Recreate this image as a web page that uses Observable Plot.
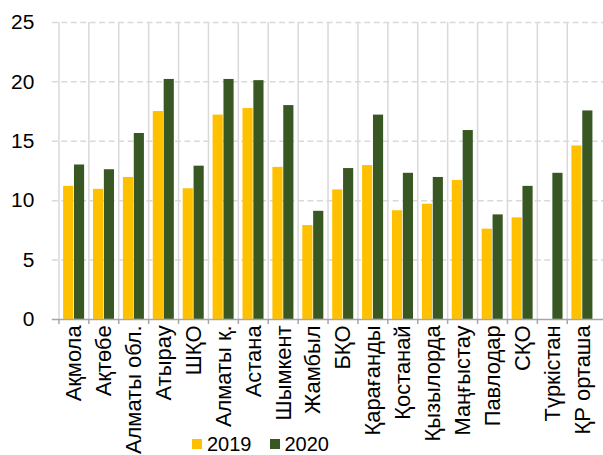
<!DOCTYPE html>
<html>
<head>
<meta charset="utf-8">
<script src="https://cdn.jsdelivr.net/npm/d3@7"></script>
<script src="https://cdn.jsdelivr.net/npm/@observablehq/plot@0.6"></script>
<style>
  html, body { margin: 0; padding: 0; background: #fff; overflow: hidden; }
  #wrap { position: relative; width: 603px; height: 455px; overflow: hidden; }
  #chart svg text { font-family: "Liberation Sans", Arial, sans-serif !important; fill: #000; }
  #chart svg g[aria-label^="x-axis"] text { font-size: 22px !important; }
  #chart svg g[aria-label^="y-axis"] text { font-size: 21px !important; }
  #legend { position: absolute; left: 192px; top: 434px; display: flex; align-items: center;
    font-family: "Liberation Sans", Arial, sans-serif; font-size: 20px; line-height: 20px; color: #000; }
  .sw { width: 10px; height: 10px; display: inline-block; margin-right: 5px; }
  .item { display: flex; align-items: center; margin-right: 18px; }
</style>
</head>
<body>
<div id="wrap"><div id="chart"></div>
<div id="legend"></div></div>
<script>
const regions = ["Ақмола","Ақтөбе","Алматы обл.","Атырау","ШҚО","Алматы қ.","Астана","Шымкент","Жамбыл","БҚО","Қарағанды","Қостанай","Қызылорда","Маңғыстау","Павлодар","СҚО","Түркістан","ҚР орташа"];
const v2019 = [11.2, 10.95, 11.95, 17.5, 11.0, 17.2, 17.75, 12.8, 7.9, 10.9, 12.95, 9.15, 9.7, 11.7, 7.6, 8.55, null, 14.6];
const v2020 = [13.0, 12.6, 15.65, 20.2, 12.9, 20.2, 20.1, 18.0, 9.1, 12.7, 17.2, 12.3, 11.95, 15.9, 8.8, 11.2, 12.3, 17.55];
const years = ["2019", "2020"];
const yTicks = [0, 5, 10, 15, 20, 25];
const colors = ["#FFC000", "#385723"];

const W = 605, ML = 52, MR = 0;
const bw = (W - ML - MR) / regions.length;

const d19 = regions.map((r, i) => ({region: r, value: v2019[i]})).filter(d => d.value != null);
const d20 = regions.map((r, i) => ({region: r, value: v2020[i]})).filter(d => d.value != null);

const plot = Plot.plot({
  width: W,
  height: 455,
  marginLeft: ML,
  marginRight: MR,
  marginTop: 22,
  marginBottom: 135,
  style: {fontFamily: "Liberation Sans, Arial, sans-serif", fontSize: "21px", color: "#000", background: "#fff", overflow: "visible"},
  x: {domain: regions, padding: 0, label: null, tickSize: 0, tickPadding: 6, tickRotate: -90},
  y: {domain: [0, 25], ticks: yTicks, label: null, tickSize: 0, tickPadding: 18},
  marks: [
    Plot.ruleY(yTicks.filter(t => t > 0), {stroke: "#d9d9d9", strokeWidth: 1.5, strokeDasharray: "6,3.5"}),
    Plot.ruleX(regions, {x: d => d, dx: -bw / 2, y1: 0, y2: 25, stroke: "#d9d9d9", strokeWidth: 1.5}),
    Plot.barY(d19, {x: "region", y: "value", fill: colors[0], insetLeft: 0.14 * bw, insetRight: 0.505 * bw}),
    Plot.barY(d20, {x: "region", y: "value", fill: colors[1], insetLeft: 0.495 * bw, insetRight: 0.15 * bw}),
    Plot.ruleY([0], {stroke: "#a6a6a6", strokeWidth: 1.5}),
    Plot.ruleX(regions, {x: d => d, dx: -bw / 2, y1: 0, y2: 0, insetBottom: -5, stroke: "#a6a6a6", strokeWidth: 1.5})
  ]
});
document.getElementById("chart").appendChild(plot);

const legend = document.getElementById("legend");
years.forEach((y, i) => {
  const it = document.createElement("div");
  it.className = "item";
  const sw = document.createElement("span");
  sw.className = "sw";
  sw.style.background = colors[i];
  const t = document.createElement("span");
  t.textContent = y;
  it.appendChild(sw); it.appendChild(t);
  legend.appendChild(it);
});
</script>
</body>
</html>
